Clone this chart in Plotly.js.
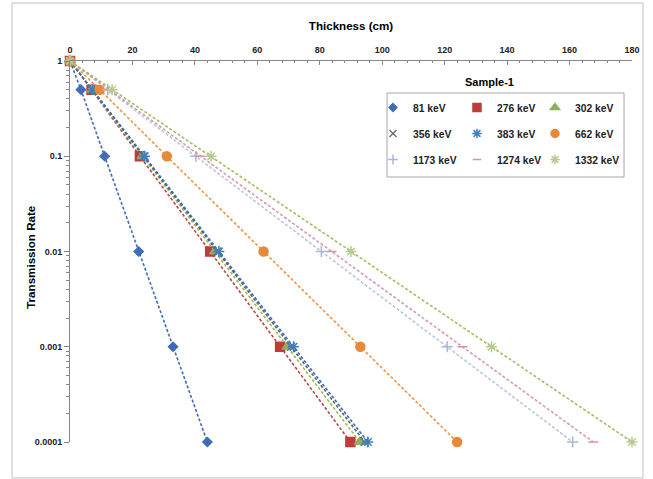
<!DOCTYPE html>
<html>
<head>
<meta charset="utf-8">
<script src="https://cdn.plot.ly/plotly-3.0.1.min.js"></script>
<style>
html,body{margin:0;padding:0;background:#fff;}
#chart{width:653px;height:479px;}
</style>
</head>
<body>
<div id="chart"></div>
<script>
// Transmission levels (y) shared by all series
const transmission = [1, 0.5, 0.1, 0.01, 0.001, 0.0001];

// Thickness (cm) at each transmission level, per energy
const energies = ["81 keV", "276 keV", "302 keV", "356 keV", "383 keV", "662 keV", "1173 keV", "1274 keV", "1332 keV"];
const t81   = [0, 3.5, 11.1, 22.0, 33.0, 44.0];
const t276  = [0, 6.9, 22.4, 44.9, 67.3, 89.8];
const t302  = [0, 7.0, 23.2, 46.4, 69.6, 92.8];
const t356  = [0, 7.1, 23.6, 47.2, 70.8, 94.4];
const t383  = [0, 7.2, 23.9, 47.7, 71.6, 95.4];
const t662  = [0, 9.5, 31.0, 62.0, 93.0, 124.0];
const t1173 = [0, 12.1, 40.3, 80.5, 120.8, 161.0];
const t1274 = [0, 12.6, 41.9, 83.8, 125.7, 167.6];
const t1332 = [0, 13.5, 45.2, 90.0, 135.0, 180.0];
const thickness = [t81, t276, t302, t356, t383, t662, t1173, t1274, t1332];

const styles = [
  {mc:"#3F6DB5", lc:"#3F6DB5", sym:"diamond", size:7},
  {mc:"#BE3D3B", lc:"#B8474A", sym:"square", size:9},
  {mc:"#8DB05A", lc:"#9BBB59", sym:"triangle-up", size:9},
  {mc:"#6B7380", lc:"#5A6070", sym:"x-thin-open", size:8},
  {mc:"#3C7FC0", lc:"#3B6DB5", sym:"asterisk-open", size:9},
  {mc:"#E8883A", lc:"#EC9548", sym:"circle", size:9},
  {mc:"#A9B8D6", lc:"#BCC4DE", sym:"cross-thin-open", size:8},
  {mc:"#D98FA8", lc:"#D39AB0", sym:"line-ew-open", size:7},
  {mc:"#B7CB8E", lc:"#A3BD62", sym:"asterisk-open", size:9}
];
// legend column for each series (3 columns, filled row by row)
const legendCol = ["legend", "legend2", "legend3", "legend", "legend2", "legend3", "legend", "legend2", "legend3"];

const traces = [];
energies.forEach((name, i) => {
  const s = styles[i];
  traces.push({
    x: thickness[i], y: transmission, name: name, type: "scatter", mode: "lines+markers",
    showlegend: false, cliponaxis: false,
    line: {color: s.lc, width: 1.6, dash: "3px,2px"},
    marker: {symbol: s.sym, size: s.size, color: s.mc, line: {color: s.mc, width: 1.5}}
  });
});
// legend-only entries (marker without line)
energies.forEach((name, i) => {
  const s = styles[i];
  traces.push({
    x: [null], y: [null], name: name, type: "scatter", mode: "markers", showlegend: true,
    legend: legendCol[i], legendgroup: "g" + i,
    marker: {symbol: s.sym, size: s.size - 1, color: s.mc, line: {color: s.mc, width: 1.5}}
  });
});

const fontFam = "Liberation Sans, Arial, sans-serif";
function legendAt(xp) {
  return {
    orientation: "v", x: xp, xanchor: "left", y: 0.916, yanchor: "top",
    bgcolor: "rgba(0,0,0,0)", borderwidth: 0, itemwidth: 30, tracegroupgap: 7,
    font: {size: 10.3, family: fontFam, weight: "bold", color: "#222"}
  };
}
const layout = {
  width: 653, height: 479,
  margin: {l: 70, r: 21, t: 61, b: 37},
  paper_bgcolor: "#fff", plot_bgcolor: "#fff",
  font: {family: fontFam, color: "#000"},
  showlegend: true,
  xaxis: {
    side: "top", range: [0, 180], dtick: 20, tick0: 0,
    showgrid: false, zeroline: false,
    showline: true, linecolor: "#868686", linewidth: 1,
    ticks: "inside", ticklen: 4, tickcolor: "#868686",
    minor: {dtick: 4, ticks: "inside", ticklen: 2, tickcolor: "#868686", showgrid: false},
    tickfont: {size: 9, family: fontFam, weight: "bold", color: "#222"},
    ticklabelstandoff: 3,
    title: {text: "<b>Thickness (cm)</b>", font: {size: 11.6, family: fontFam}, standoff: 12}
  },
  yaxis: {
    type: "log", range: [-4, 0],
    showgrid: false, zeroline: false,
    showline: true, linecolor: "#868686", linewidth: 1,
    ticks: "outside", ticklen: 5, tickcolor: "#868686",
    minor: {dtick: "D1", ticks: "outside", ticklen: 3, tickcolor: "#868686", showgrid: false},
    tickvals: [0.0001, 0.001, 0.01, 0.1, 1],
    ticktext: ["0.0001", "0.001", "0.01", "0.1", "1"],
    tickfont: {size: 9, family: fontFam, weight: "bold", color: "#222"}
  },
  legend: legendAt(0.5391),
  legend2: legendAt(0.6886),
  legend3: legendAt(0.8274),
  annotations: [{
    xref: "paper", yref: "paper", x: 0.746, y: 0.945, xanchor: "center", yanchor: "middle",
    text: "<b>Sample-1</b>", showarrow: false, font: {size: 11, family: fontFam, color: "#000"}
  }, {
    xref: "paper", yref: "paper", x: -0.0694, y: 0.486, xanchor: "center", yanchor: "middle",
    text: "<b>Transmission Rate</b>", textangle: -90, showarrow: false,
    font: {size: 11.6, family: fontFam, color: "#000"}
  }],
  shapes: [{
    type: "rect", xref: "paper", yref: "paper",
    x0: -0.1032, x1: 1.0196, y0: -0.0945, y1: 1.1522,
    line: {color: "#BFBFBF", width: 1}, fillcolor: "rgba(0,0,0,0)"
  }, {
    type: "rect", xref: "paper", yref: "paper", layer: "above",
    x0: 0.5641, x1: 0.9858, y0: 0.6955, y1: 0.916,
    line: {color: "#A6A6A6", width: 1}, fillcolor: "#fff"
  }]
};

Plotly.newPlot("chart", traces, layout, {displayModeBar: false, staticPlot: true});
</script>
</body>
</html>
